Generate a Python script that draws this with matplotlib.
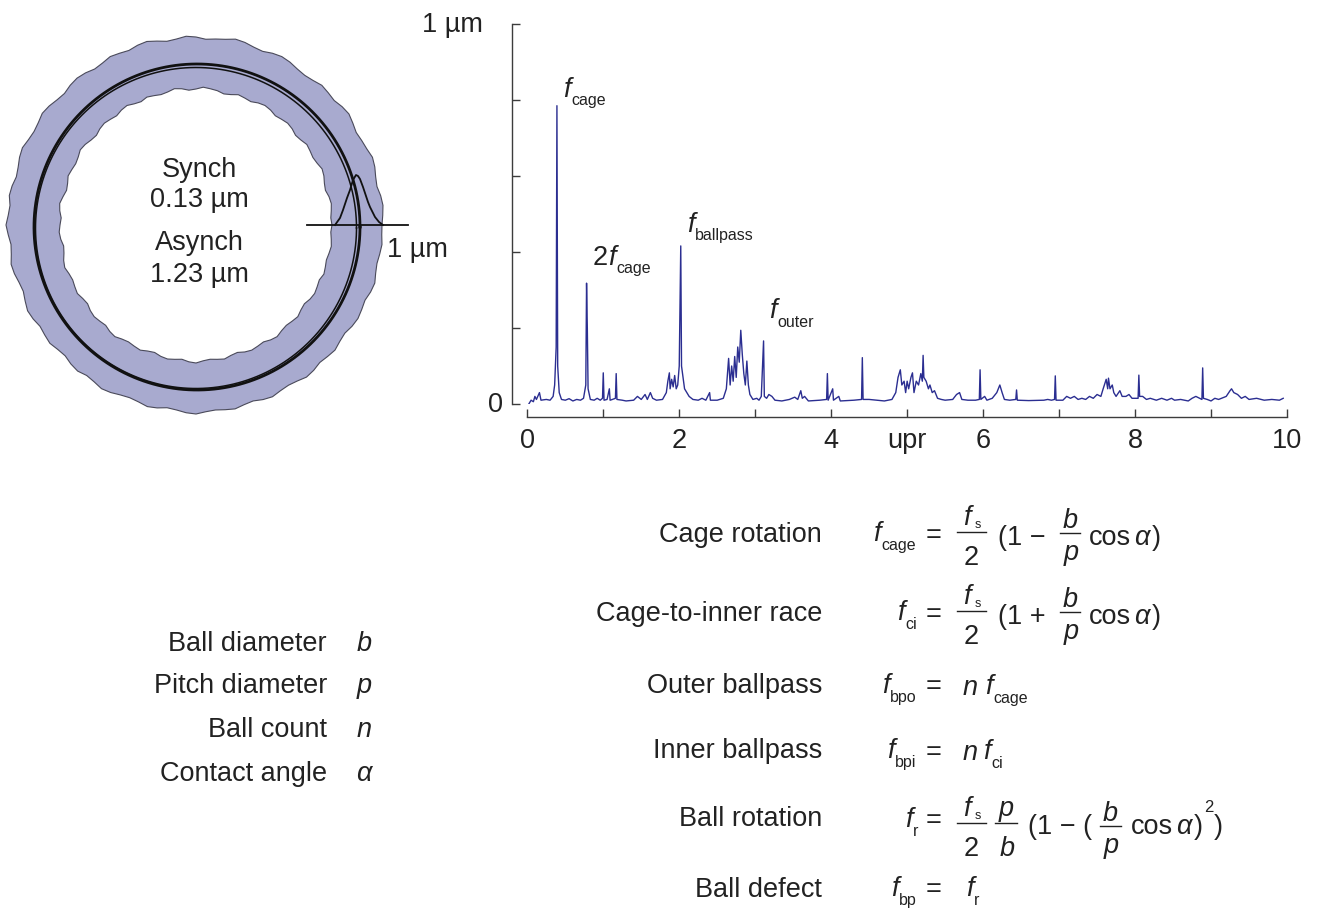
import numpy as np
import matplotlib
matplotlib.use("Agg")
import matplotlib.pyplot as plt
from matplotlib.lines import Line2D
import matplotlib.transforms as mtransforms

W, H = 1318, 916
plt.rcParams['font.family'] = ['Liberation Sans', 'DejaVu Sans']

# ---------------- data ----------------
# spectrum: (frequency in upr, amplitude in um)
spectrum_points = [
    (0.02, 0.000), (0.05, 0.010), (0.08, 0.006), (0.10, 0.020), (0.12, 0.012), (0.16, 0.030),
    (0.18, 0.010), (0.25, 0.012), (0.30, 0.010), (0.34, 0.020), (0.36, 0.050), (0.38, 0.150),
    (0.39, 0.785), (0.40, 0.100), (0.42, 0.030), (0.45, 0.012), (0.50, 0.010), (0.55, 0.014),
    (0.60, 0.008), (0.65, 0.012), (0.70, 0.010), (0.74, 0.015), (0.77, 0.050), (0.78, 0.318),
    (0.79, 0.200), (0.80, 0.040), (0.83, 0.012), (0.88, 0.010), (0.92, 0.015), (0.96, 0.010),
    (0.99, 0.015), (1.00, 0.082), (1.01, 0.010), (1.05, 0.012), (1.08, 0.040), (1.09, 0.010),
    (1.12, 0.012), (1.16, 0.015), (1.17, 0.080), (1.18, 0.012), (1.25, 0.010), (1.30, 0.008),
    (1.40, 0.010), (1.45, 0.020), (1.50, 0.012), (1.55, 0.025), (1.58, 0.012), (1.62, 0.030),
    (1.65, 0.015), (1.70, 0.010), (1.78, 0.012), (1.83, 0.030), (1.85, 0.060), (1.87, 0.082),
    (1.88, 0.040), (1.90, 0.065), (1.92, 0.045), (1.94, 0.075), (1.96, 0.040), (1.98, 0.050),
    (2.00, 0.100), (2.02, 0.416), (2.03, 0.100), (2.05, 0.070), (2.07, 0.040), (2.10, 0.030),
    (2.13, 0.020), (2.18, 0.012), (2.25, 0.010), (2.30, 0.015), (2.35, 0.010), (2.40, 0.030),
    (2.41, 0.010), (2.50, 0.010), (2.58, 0.015), (2.62, 0.040), (2.65, 0.120), (2.67, 0.050),
    (2.69, 0.100), (2.71, 0.060), (2.73, 0.125), (2.75, 0.070), (2.77, 0.150), (2.79, 0.110),
    (2.81, 0.194), (2.83, 0.130), (2.85, 0.080), (2.87, 0.050), (2.89, 0.113), (2.91, 0.050),
    (2.93, 0.025), (2.97, 0.012), (3.02, 0.015), (3.05, 0.010), (3.08, 0.020), (3.11, 0.166),
    (3.12, 0.020), (3.15, 0.015), (3.18, 0.025), (3.22, 0.020), (3.26, 0.010), (3.35, 0.008),
    (3.45, 0.012), (3.52, 0.018), (3.56, 0.012), (3.60, 0.035), (3.62, 0.015), (3.65, 0.020),
    (3.70, 0.008), (3.85, 0.010), (3.94, 0.012), (3.95, 0.080), (3.96, 0.010), (4.02, 0.040),
    (4.03, 0.010), (4.10, 0.020), (4.12, 0.008), (4.30, 0.010), (4.40, 0.012), (4.41, 0.122),
    (4.42, 0.012), (4.50, 0.012), (4.60, 0.010), (4.70, 0.008), (4.80, 0.012), (4.85, 0.030),
    (4.88, 0.070), (4.91, 0.090), (4.93, 0.050), (4.96, 0.060), (4.98, 0.030), (5.00, 0.060),
    (5.02, 0.040), (5.05, 0.070), (5.07, 0.082), (5.09, 0.030), (5.12, 0.060), (5.15, 0.050),
    (5.18, 0.080), (5.20, 0.060), (5.21, 0.128), (5.22, 0.070), (5.25, 0.060), (5.28, 0.040),
    (5.30, 0.050), (5.33, 0.030), (5.36, 0.035), (5.40, 0.015), (5.45, 0.012), (5.50, 0.010),
    (5.60, 0.012), (5.65, 0.025), (5.69, 0.030), (5.72, 0.012), (5.80, 0.010), (5.90, 0.010),
    (5.95, 0.012), (5.96, 0.090), (5.97, 0.012), (6.02, 0.020), (6.05, 0.010), (6.12, 0.015),
    (6.18, 0.030), (6.22, 0.050), (6.25, 0.030), (6.28, 0.012), (6.35, 0.010), (6.43, 0.012),
    (6.44, 0.037), (6.45, 0.010), (6.60, 0.009), (6.80, 0.010), (6.85, 0.012), (6.90, 0.010),
    (6.94, 0.012), (6.95, 0.074), (6.96, 0.010), (7.05, 0.010), (7.10, 0.020), (7.15, 0.015),
    (7.20, 0.020), (7.25, 0.012), (7.30, 0.015), (7.35, 0.012), (7.40, 0.020), (7.45, 0.015),
    (7.50, 0.025), (7.55, 0.020), (7.58, 0.040), (7.62, 0.065), (7.64, 0.040), (7.65, 0.068),
    (7.67, 0.040), (7.70, 0.050), (7.72, 0.030), (7.75, 0.020), (7.80, 0.035), (7.83, 0.020),
    (7.88, 0.020), (7.92, 0.025), (7.96, 0.015), (8.04, 0.015), (8.05, 0.076), (8.06, 0.020),
    (8.10, 0.020), (8.15, 0.012), (8.20, 0.015), (8.28, 0.010), (8.35, 0.015), (8.42, 0.010),
    (8.48, 0.015), (8.52, 0.010), (8.60, 0.012), (8.70, 0.008), (8.75, 0.015), (8.80, 0.020),
    (8.85, 0.015), (8.88, 0.012), (8.89, 0.095), (8.90, 0.015), (8.95, 0.012), (9.00, 0.008),
    (9.05, 0.015), (9.10, 0.012), (9.20, 0.020), (9.25, 0.035), (9.27, 0.040), (9.30, 0.030),
    (9.35, 0.025), (9.40, 0.015), (9.45, 0.020), (9.50, 0.012), (9.60, 0.015), (9.70, 0.010),
    (9.80, 0.012), (9.90, 0.010), (9.95, 0.015),
]
x_ticks = [0, 1, 2, 3, 4, 5, 6, 7, 8, 9, 10]
x_ticklabels = ['0', '', '2', '', '4', 'upr', '6', '', '8', '', '10']
y_ticks = [0, 0.2, 0.4, 0.6, 0.8, 1.0]
y_labels = {0: '0', 1.0: '1 \u00b5m'}
# peak labels: (x, y, prefix, subscript)
peak_labels = [(0.470, 0.808, '', 'cage'), (0.864, 0.366, '2', 'cage'),
               (2.10, 0.453, '', 'ballpass'), (3.18, 0.226, '', 'outer')]

# polar runout plot: radii (px units) every 3 degrees, starting east, counter-clockwise
ring_outer_r = [186, 187, 188, 187, 185, 186, 188, 189, 187, 186,
                185, 187, 189, 188, 186, 187, 188, 186, 185, 186,
                188, 189, 188, 186, 187, 189, 190, 188, 187, 186,
                188, 189, 187, 186, 188, 190, 189, 187, 188, 189,
                187, 186, 188, 189, 188, 186, 187, 189, 190, 188,
                187, 188, 190, 189, 187, 186, 188, 189, 187, 188,
                190, 188, 186, 187, 189, 188, 186, 185, 187, 189,
                188, 186, 187, 188, 186, 185, 187, 188, 186, 187,
                189, 188, 186, 185, 186, 188, 187, 185, 186, 188,
                189, 187, 186, 187, 188, 186, 185, 187, 188, 186,
                185, 186, 188, 187, 185, 186, 187, 185, 184, 186,
                187, 186, 185, 187, 188, 186, 185, 186, 187, 186]
ring_inner_r = [136, 135, 136, 137, 136, 134, 135, 137, 138, 136,
                135, 136, 137, 135, 134, 136, 137, 136, 135, 137,
                138, 137, 135, 136, 137, 135, 134, 136, 137, 138,
                136, 135, 137, 138, 136, 135, 136, 137, 135, 136,
                138, 137, 135, 136, 137, 136, 134, 135, 137, 138,
                136, 135, 136, 137, 135, 134, 136, 138, 137, 135,
                136, 137, 136, 134, 135, 137, 138, 136, 135, 136,
                137, 135, 134, 136, 137, 136, 135, 137, 138, 136,
                135, 136, 137, 135, 134, 136, 137, 136, 135, 137,
                138, 136, 135, 136, 137, 135, 134, 136, 137, 136,
                135, 137, 138, 136, 135, 136, 137, 135, 134, 136,
                137, 136, 135, 137, 136, 135, 136, 137, 136, 135]
lap_radius = [163.0, 160.5]
lap_center = [(1.0, -2.0), (0.0, -3.0)]
synch_x = [139, 144, 147, 151, 154, 157, 160, 162, 164, 167, 169, 172, 174, 177, 179, 183, 187]
synch_y = [0, 7, 15, 27, 35, 45, 50, 49, 46, 38, 32, 23, 18, 12, 8, 3, 0]
synch_axis_x = [111, 212]
ring_texts = ['Synch', '0.13 \u00b5m', 'Asynch', '1.23 \u00b5m']

param_names = ['Ball diameter', 'Pitch diameter', 'Ball count', 'Contact angle']
param_symbols = ['b', 'p', 'n', '\u03b1']
formula_names = ['Cage rotation', 'Cage-to-inner race', 'Outer ballpass',
                 'Inner ballpass', 'Ball rotation', 'Ball defect']

# ---------------- style ----------------
TXT = '#222222'
AXC = '#3c3c3c'
LINE = '#2b2e91'
FILL = '#a8aacf'
FS = 19.5
SUB = 11.5
PT = 0.72  # points per pixel at 100 dpi

fig = plt.figure(figsize=(W / 100, H / 100), dpi=100)


def fx(px):
    return px / W


def fy(py):
    return 1 - py / H


def T(px, py, s, size=FS, style='normal', ha='left'):
    fig.text(fx(px), fy(py), s, fontsize=size, style=style, ha=ha, va='baseline', color=TXT)


def fsub(px, py, sub, dx=8, dy=9, size=FS, subsize=SUB):
    T(px, py, 'f', size, 'italic')
    T(px + dx, py + dy, sub, subsize)


def bar(x1, x2, py):
    fig.add_artist(Line2D([fx(x1), fx(x2)], [fy(py), fy(py)], transform=fig.transFigure,
                          color=TXT, lw=1.0))


def fs_frac(xl, py_bar, top_dy=7, bot_dy=33):
    bar(xl, xl + 29, py_bar)
    fsub(xl + 6, py_bar - top_dy, 's', dx=12, dy=3, subsize=9)
    T(xl + 14.5, py_bar + bot_dy, '2', ha='center')


def sym_frac(xl, xr, py_bar, top, bot, top_dy=5, bot_dy=27):
    bar(xl, xr, py_bar)
    xc = (xl + xr) / 2
    T(xc, py_bar - top_dy, top, style='italic', ha='center')
    T(xc + 1, py_bar + bot_dy, bot, style='italic', ha='center')


# ---------------- ring (polar runout) ----------------
ax_r = fig.add_axes([0, fy(420), 460 / W, 400 / H])
ax_r.set_xlim(-196, 264)
ax_r.set_ylim(-195, 205)
ax_r.axis('off')
step = 360.0 / len(ring_outer_r)
ang = np.deg2rad(np.arange(len(ring_outer_r)) * step)
ro = np.array(ring_outer_r + ring_outer_r[:1], float)
ri = np.array(ring_inner_r + ring_inner_r[:1], float)
a2 = np.append(ang, ang[0])
ax_r.fill(ro * np.cos(a2), ro * np.sin(a2), facecolor=FILL, edgecolor='#4a4a5a', lw=0.8, zorder=1)
ax_r.fill(ri * np.cos(a2), ri * np.sin(a2), facecolor='white', edgecolor='#4a4a5a', lw=0.8, zorder=2)
t = np.linspace(0, 2 * np.pi, 400)
for r, (cx, cy), lw in zip(lap_radius, lap_center, [2.0, 1.1]):
    ax_r.plot(cx + r * np.cos(t), cy + r * np.sin(t), color='#111111', lw=lw, zorder=3)
ax_r.plot(synch_axis_x, [0, 0], color='#111111', lw=1.3, zorder=4)
ax_r.plot(synch_x, synch_y, color='#111111', lw=1.3, zorder=4)
for s, yb in zip(ring_texts, [48, 18, -25, -57]):
    ax_r.text(3, yb, s, fontsize=FS, ha='center', va='baseline', color=TXT, zorder=5)
ax_r.text(191, -32, '1 \u00b5m', fontsize=FS, ha='left', va='baseline', color=TXT)

# ---------------- spectrum ----------------
freq = [p[0] for p in spectrum_points]
amp = [p[1] for p in spectrum_points]
ax = fig.add_axes([fx(527.3), fy(404), (1287 - 527.3) / W, 380 / H])
ax.plot(freq, amp, color=LINE, lw=1.0)
ax.set_xlim(0, 10)
ax.set_ylim(0, 1)
for s in ['top', 'right']:
    ax.spines[s].set_visible(False)
ax.spines['left'].set_position(('outward', 15 * PT))
ax.spines['bottom'].set_position(('outward', 13.3 * PT))
for s in ['left', 'bottom']:
    ax.spines[s].set_color(AXC)
    ax.spines[s].set_linewidth(1.0)
ax.set_xticks(x_ticks)
ax.set_xticklabels(x_ticklabels)
ax.set_yticks(y_ticks)
ax.set_yticklabels([])
ax.tick_params(direction='in', length=6, width=1.0, color=AXC, labelsize=FS, labelcolor=TXT)
ax.tick_params(axis='x', pad=8)
ax.patch.set_visible(False)
for yv, lab in y_labels.items():
    xr = 503 if yv == 0 else 483
    ax.annotate(lab, xy=(0, yv), xycoords=('axes fraction', 'data'),
                xytext=(-(527.3 - xr) * PT, -7.7 * PT), textcoords='offset points',
                ha='right', va='baseline', fontsize=FS, color=TXT)
for x, y, pre, sub in peak_labels:
    dx0 = 0
    if pre:
        ax.text(x, y, pre, fontsize=FS, ha='left', va='baseline', color=TXT)
        dx0 = 15
    tf = mtransforms.offset_copy(ax.transData, fig=fig, x=dx0 * PT, y=0, units='points')
    ax.text(x, y, 'f', fontsize=FS, style='italic', ha='left', va='baseline', color=TXT, transform=tf)
    ts = mtransforms.offset_copy(ax.transData, fig=fig, x=(dx0 + 8) * PT, y=-8.5 * PT, units='points')
    ax.text(x, y, sub, fontsize=SUB, ha='left', va='baseline', color=TXT, transform=ts)

# ---------------- parameter list ----------------
for name, sym, yb in zip(param_names, param_symbols, [651, 693, 737, 781]):
    T(327, yb, name, ha='right')
    T(364, yb, sym, style='italic', ha='center')

# ---------------- formulas ----------------
row_label_y = [542, 621, 693, 758, 826, 897]
for name, yb in zip(formula_names, row_label_y):
    T(822, yb, name, ha='right')

# row 1: cage rotation
fsub(873, 541, 'cage')
T(934, 543, '=', ha='center')
fs_frac(957, 532)
T(998, 545, '(1 \u2212')
sym_frac(1060, 1080, 533, 'b', 'p')
T(1089, 545, 'cos')
T(1134, 545, '\u03b1', style='italic')
T(1152, 545, ')')

# row 2: cage-to-inner race
fsub(897, 620, 'ci')
T(934, 622, '=', ha='center')
fs_frac(957, 611)
T(998, 624, '(1 +')
sym_frac(1060, 1080, 612, 'b', 'p')
T(1089, 624, 'cos')
T(1134, 624, '\u03b1', style='italic')
T(1152, 624, ')')

# row 3: outer ballpass
fsub(882, 693, 'bpo')
T(934, 694, '=', ha='center')
T(963, 695, 'n', style='italic')
fsub(985, 694, 'cage')

# row 4: inner ballpass
fsub(887, 758, 'bpi')
T(934, 760, '=', ha='center')
T(963, 760, 'n', style='italic')
fsub(983, 759, 'ci')

# row 5: ball rotation
fsub(905, 827, 'r')
T(934, 828, '=', ha='center')
fs_frac(957, 823)
sym_frac(995, 1017, 823, 'p', 'b', top_dy=7, bot_dy=33)
T(1028, 834, '(1 \u2212 (')
sym_frac(1100, 1121, 826, 'b', 'p')
T(1131, 834, 'cos')
T(1176, 834, '\u03b1', style='italic')
T(1194, 834, ')')
T(1204, 812, '2', size=12)
T(1214, 834, ')')

# row 6: ball defect
fsub(891, 896, 'bp')
T(934, 897, '=', ha='center')
fsub(966, 896, 'r')

fig.savefig('out.png', dpi=100)
